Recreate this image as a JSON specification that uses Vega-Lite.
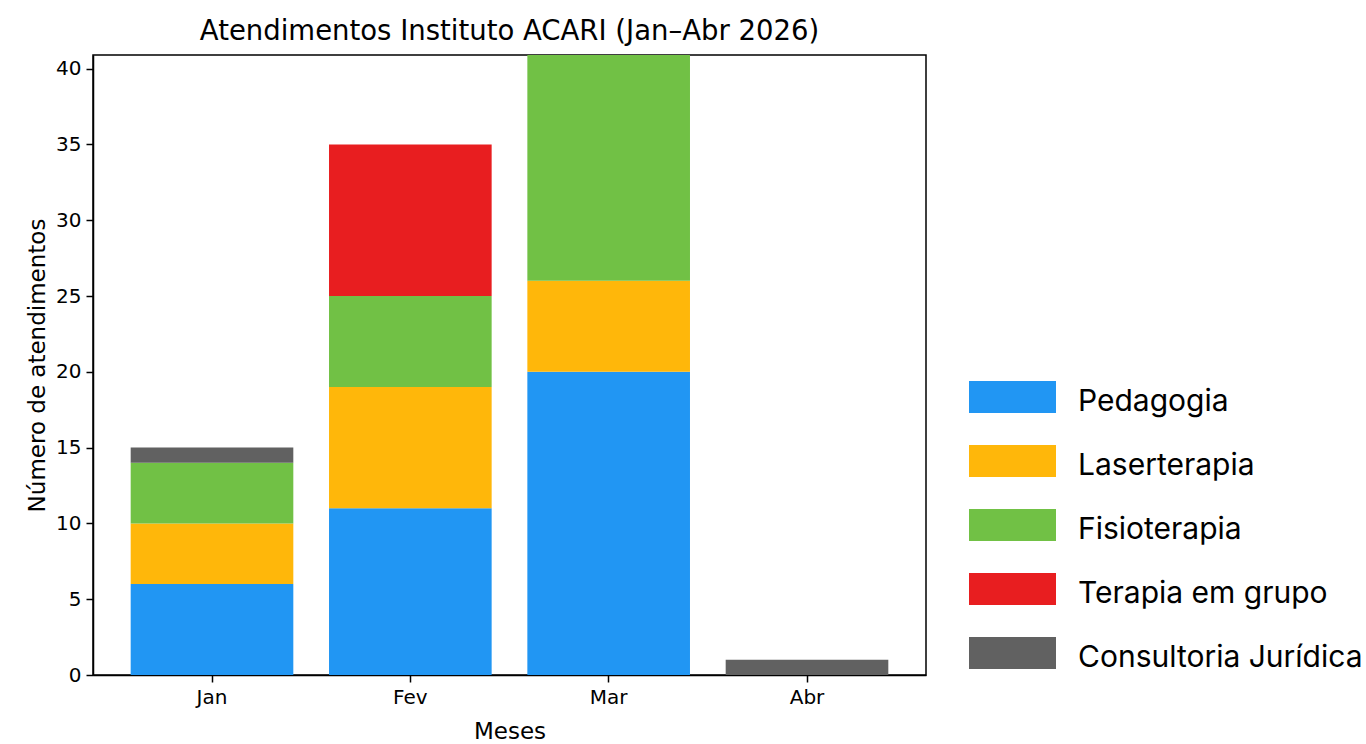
{
  "$schema": "https://vega.github.io/schema/vega-lite/v6.json",
  "width": 833,
  "height": 620,
  "autosize": "none",
  "padding": {"left": 93, "top": 55, "right": 440, "bottom": 69},
  "background": "white",
  "title": {
    "text": "Atendimentos Instituto ACARI (Jan–Abr 2026)",
    "font": "DejaVu Sans",
    "fontSize": 27.5,
    "fontWeight": "normal",
    "color": "#000000",
    "offset": 10
  },
  "data": {
    "values": [
      {"mes": "Jan", "servico": "Pedagogia", "atendimentos": 6},
      {"mes": "Jan", "servico": "Laserterapia", "atendimentos": 4},
      {"mes": "Jan", "servico": "Fisioterapia", "atendimentos": 4},
      {"mes": "Jan", "servico": "Consultoria Jurídica", "atendimentos": 1},
      {"mes": "Fev", "servico": "Pedagogia", "atendimentos": 11},
      {"mes": "Fev", "servico": "Laserterapia", "atendimentos": 8},
      {"mes": "Fev", "servico": "Fisioterapia", "atendimentos": 6},
      {"mes": "Fev", "servico": "Terapia em grupo", "atendimentos": 10},
      {"mes": "Mar", "servico": "Pedagogia", "atendimentos": 20},
      {"mes": "Mar", "servico": "Laserterapia", "atendimentos": 6},
      {"mes": "Mar", "servico": "Fisioterapia", "atendimentos": 15},
      {"mes": "Abr", "servico": "Consultoria Jurídica", "atendimentos": 1}
    ]
  },
  "transform": [
    {"calculate": "indexof(['Pedagogia','Laserterapia','Fisioterapia','Terapia em grupo','Consultoria Jurídica'], datum.servico)", "as": "ordem"}
  ],
  "mark": {"type": "bar", "clip": true, "strokeWidth": 0},
  "encoding": {
    "x": {
      "field": "mes",
      "type": "nominal",
      "sort": ["Jan", "Fev", "Mar", "Abr"],
      "scale": {"paddingInner": 0.18, "paddingOuter": 0.19},
      "axis": {"title": "Meses", "labelAngle": 0}
    },
    "y": {
      "field": "atendimentos",
      "type": "quantitative",
      "stack": "zero",
      "scale": {"domain": [0, 40.9], "nice": false},
      "axis": {"title": "Número de atendimentos", "values": [0, 5, 10, 15, 20, 25, 30, 35, 40]}
    },
    "color": {
      "field": "servico",
      "type": "nominal",
      "scale": {
        "domain": ["Pedagogia", "Laserterapia", "Fisioterapia", "Terapia em grupo", "Consultoria Jurídica"],
        "range": ["#2196F3", "#FFB70A", "#71C145", "#E81E20", "#616161"]
      },
      "legend": {
        "title": null,
        "orient": "none",
        "legendX": 876,
        "legendY": 320,
        "padding": 0,
        "symbolType": "M-1,-0.368H1V0.368H-1Z",
        "symbolSize": 7569,
        "symbolStrokeWidth": 0,
        "symbolOpacity": 1,
        "symbolOffset": 0,
        "clipHeight": 44,
        "rowPadding": 20,
        "labelFont": "Inter",
        "labelFontSize": 30,
        "labelColor": "#000000",
        "labelOffset": 22,
        "labelLimit": 400,
        "encode": {"labels": {"update": {"dy": {"value": 5}}}}
      }
    },
    "order": {"field": "ordem", "type": "quantitative", "sort": "ascending"}
  },
  "config": {
    "view": {"stroke": "#000000", "strokeWidth": 1.5},
    "axis": {
      "grid": false,
      "domainColor": "#000000",
      "domainWidth": 1.5,
      "tickColor": "#000000",
      "tickWidth": 1.5,
      "tickSize": 7,
      "labelFont": "DejaVu Sans",
      "labelFontSize": 20,
      "labelColor": "#000000",
      "labelPadding": 5,
      "titleFont": "DejaVu Sans",
      "titleFontSize": 23,
      "titleFontWeight": "normal",
      "titleColor": "#000000"
    },
    "axisY": {"titlePadding": 6},
    "axisX": {"titlePadding": 13}
  }
}
